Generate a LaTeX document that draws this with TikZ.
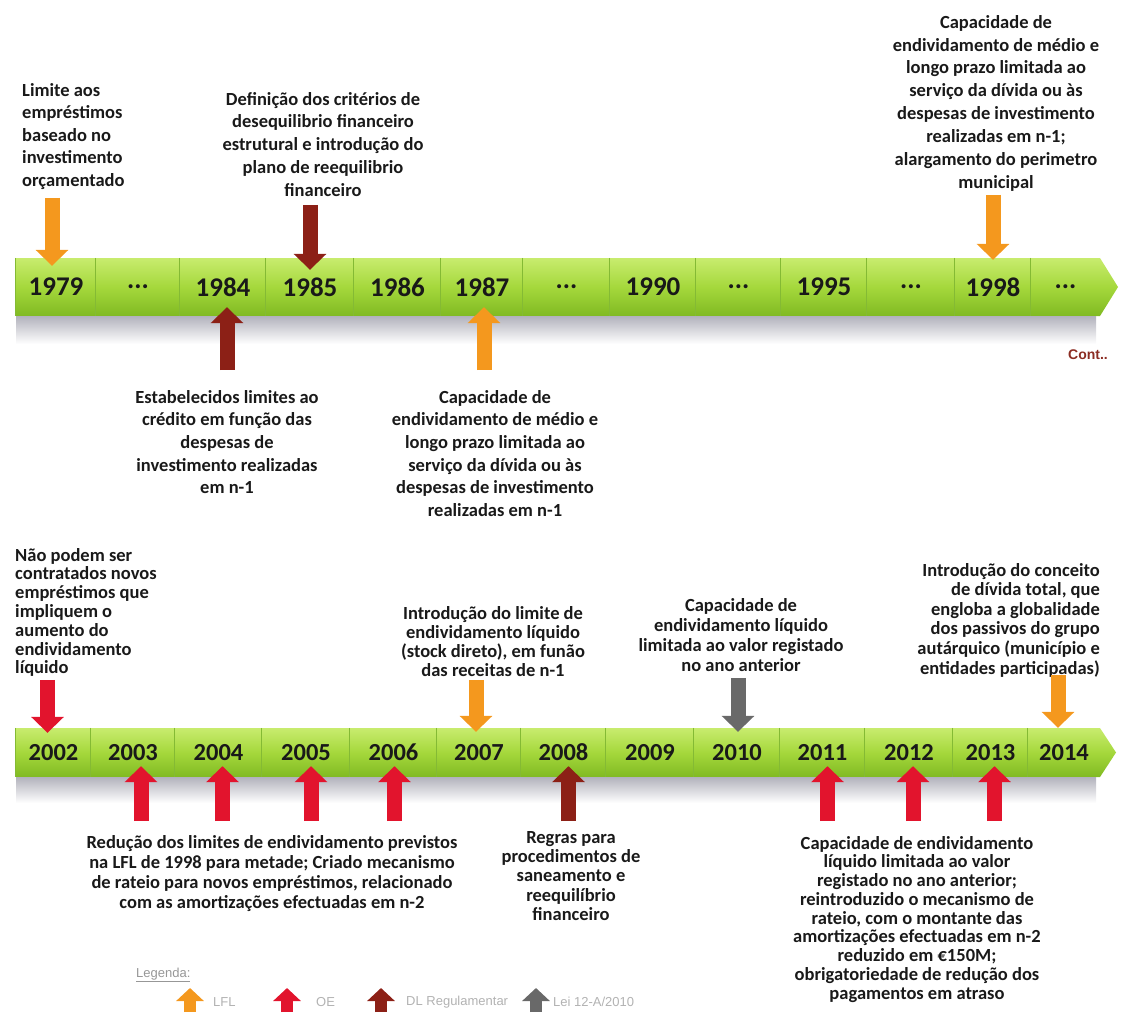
\documentclass[tikz,border=0pt]{standalone}
\usepackage{fontspec}
\setmainfont{Carlito}
\newfontfamily\legfont{Liberation Sans}
\usetikzlibrary{arrows.meta}

\definecolor{lflc}{RGB}{244,152,30}
\definecolor{oec}{RGB}{226,20,45}
\definecolor{dlc}{RGB}{140,32,22}
\definecolor{leic}{RGB}{105,105,105}
\definecolor{barhi}{RGB}{200,236,110}
\definecolor{barmid}{RGB}{165,216,60}
\definecolor{barlo}{RGB}{128,186,34}
\definecolor{cellline}{RGB}{132,186,52}
\definecolor{shadowc}{RGB}{178,178,188}
\definecolor{txt}{RGB}{25,25,25}
\definecolor{contc}{RGB}{140,45,35}
\definecolor{legc}{RGB}{178,178,178}
\newcommand{\yrgap}{...}
\newcommand{\notefont}[1]{\fontsize{18.5}{#1}\selectfont\bfseries}

\begin{document}
\begin{tikzpicture}[x=1pt, y=-1pt,
    cell/.style={inner sep=0pt, text=txt},
    topcell/.style={cell, minimum height=58pt, font=\fontsize{27}{27}\selectfont\bfseries},
    lowcell/.style={cell, minimum height=49pt, font=\fontsize{24.5}{24.5}\selectfont\bfseries},
    divider/.style={draw=cellline, line width=0.8pt},
    note/.style={inner sep=0pt, text=txt, align=center, font=\notefont{22.7}},
    evt/.style={line width=15pt, -{Triangle[width=32pt,length=16pt]}},
    lfl/.style={evt, draw=lflc},
    oe/.style={evt, draw=oec},
    dl/.style={evt, draw=dlc},
    lei/.style={evt, draw=leic},
    legtxt/.style={inner sep=0pt, text=legc, font=\legfont\fontsize{13}{13}\selectfont},
    legarr/.style={line width=12pt, -{Triangle[width=27pt,length=13pt]}}]
  \useasboundingbox (0,0) rectangle (1121,1012);

  % first timeline
  \shade[top color=barhi, bottom color=barlo, middle color=barmid]
    (16,258) -- (1100,258) -- (1118,287) -- (1100,316) -- (16,316) -- cycle;
  \shade[top color=shadowc, bottom color=white] (16,316) rectangle (1096,344);
  \foreach \xa/\xb/\yr/\nm in {16/96/1979/c1979, 96/180/\yrgap/g1, 180/266/1984/c1984,
      266/354/1985/c1985, 354/441/1986/c1986, 441/523/1987/c1987, 523/610/\yrgap/g2,
      610/696/1990/c1990, 696/781/\yrgap/g3, 781/867/1995/c1995, 867/955/\yrgap/g4,
      955/1031/1998/c1998, 1031/1100/\yrgap/g5}
  {
    \node[topcell, minimum width={(\xb-\xa)*1pt}] (\nm) at ({(\xa+\xb)/2}, 287) {\yr};
    \draw[divider] (\nm.north west) -- (\nm.south west);
  }

  % second timeline
  \shade[top color=barhi, bottom color=barlo, middle color=barmid]
    (16,728) -- (1100,728) -- (1116,752.5) -- (1100,777) -- (16,777) -- cycle;
  \shade[top color=shadowc, bottom color=white] (16,777) rectangle (1096,803);
  \foreach \xa/\xb/\yr in {16/91/2002, 91/175/2003, 175/262/2004, 262/350/2005,
      350/437/2006, 437/521/2007, 521/606/2008, 606/694/2009, 694/780/2010,
      780/865/2011, 865/953/2012, 953/1028/2013, 1028/1100/2014}
  {
    \node[lowcell, minimum width={(\xb-\xa)*1pt}] (c\yr) at ({(\xa+\xb)/2}, 752.5) {\yr};
    \draw[divider] (c\yr.north west) -- (c\yr.south west);
  }

  % notes, first timeline
  \node[note, anchor=north west, align=left, font=\notefont{22.5}] (n1979) at (22,83)
    {Limite aos\\empréstimos\\baseado no\\investimento\\orçamentado};
  \node[note, anchor=north] (n1985) at (323,92)
    {Definição dos critérios de\\desequilibrio financeiro\\estrutural e introdução do\\plano de reequilibrio\\financeiro};
  \node[note, anchor=north, font=\notefont{22.9}] (n1998) at (996,15)
    {Capacidade de\\endividamento de médio e\\longo prazo limitada ao\\serviço da dívida ou às\\despesas de investimento\\realizadas em n-1;\\alargamento do perimetro\\municipal};
  \node[note, anchor=north] (n1984) at (227,390)
    {Estabelecidos limites ao\\crédito em função das\\despesas de\\investimento realizadas\\em n-1};
  \node[note, anchor=north] (n1987) at (495,390)
    {Capacidade de\\endividamento de médio e\\longo prazo limitada ao\\serviço da dívida ou às\\despesas de investimento\\realizadas em n-1};
  \node[text=contc, font=\legfont\bfseries\fontsize{14}{14}\selectfont] (cont) at (1088,355) {Cont..};

  \draw[lfl] ([xshift=-4pt,yshift=60pt]c1979.north) -- ([xshift=-4pt,yshift=-8pt]c1979.north);
  \draw[dl] ([yshift=53pt]c1985.north) -- ([yshift=-12pt]c1985.north);
  \draw[lfl] ([yshift=63pt]c1998.north) -- ([yshift=-2pt]c1998.north);
  \draw[dl] ([xshift=4pt,yshift=-54pt]c1984.south) -- ([xshift=4pt,yshift=9pt]c1984.south);
  \draw[lfl] ([xshift=2pt,yshift=-54pt]c1987.south) -- ([xshift=2pt,yshift=9pt]c1987.south);

  % notes, second timeline
  \node[note, anchor=north west, align=left, font=\notefont{18.8}] (n2002) at (15,548)
    {Não podem ser\\contratados novos\\empréstimos que\\impliquem o\\aumento do\\endividamento\\líquido};
  \node[note, anchor=north, font=\notefont{19}] (n2007) at (493,606)
    {Introdução do limite de\\endividamento líquido\\(stock direto), em funão\\das receitas de n-1};
  \node[note, anchor=north, font=\notefont{20}] (n2010) at (741,598)
    {Capacidade de\\endividamento líquido\\limitada ao valor registado\\no ano anterior};
  \node[note, anchor=north east, align=right, font=\notefont{19.6}] (n2014) at (1100,563)
    {Introdução do conceito\\de dívida total, que\\engloba a globalidade\\dos passivos do grupo\\autárquico (município e\\entidades participadas)};
  \node[note, anchor=north, font=\notefont{20}] (n2003) at (272,835)
    {Redução dos limites de endividamento previstos\\na LFL de 1998 para metade; Criado mecanismo\\de rateio para novos empréstimos, relacionado\\com as amortizações efectuadas em n-2};
  \node[note, anchor=north, font=\notefont{19.3}] (n2008) at (571,831)
    {Regras para\\procedimentos de\\saneamento e\\reequilíbrio\\financeiro};
  \node[note, anchor=north, font=\notefont{18.75}] (n2011) at (917,836)
    {Capacidade de endividamento\\líquido limitada ao valor\\registado no ano anterior;\\reintroduzido o mecanismo de\\rateio, com o montante das\\amortizações efectuadas em n-2\\reduzido em €150M;\\obrigatoriedade de redução dos\\pagamentos em atraso};

  \draw[oe] ([xshift=-6pt,yshift=48pt]c2002.north) -- ([xshift=-6pt,yshift=-5pt]c2002.north);
  \draw[lfl] ([xshift=-3pt,yshift=48pt]c2007.north) -- ([xshift=-3pt,yshift=-4pt]c2007.north);
  \draw[lei] ([xshift=1pt,yshift=50pt]c2010.north) -- ([xshift=1pt,yshift=-4pt]c2010.north);
  \draw[lfl] ([xshift=-6pt,yshift=53pt]c2014.north) -- ([xshift=-6pt,yshift=0pt]c2014.north);
  \foreach \yr/\dx in {2003/8,2004/4,2005/5,2006/1,2011/5,2012/4,2013/4}
    \draw[oe] ([xshift=\dx pt,yshift=-44pt]c\yr.south) -- ([xshift=\dx pt,yshift=11pt]c\yr.south);
  \draw[dl] ([xshift=5pt,yshift=-44pt]c2008.south) -- ([xshift=5pt,yshift=11pt]c2008.south);

  % legenda
  \node[legtxt, anchor=west, text=legc!85!black] (lg) at (136,975) {\underline{Legenda:}};
  \node[legtxt, anchor=west] (kLFL) at (213,1002) {LFL};
  \node[legtxt, anchor=west] (kOE) at (316,1002) {OE};
  \node[legtxt, anchor=west] (kDL) at (406,1002) {DL Regulamentar};
  \node[legtxt, anchor=west] (kLei) at (553,1002) {Lei 12-A/2010};
  \draw[legarr, draw=lflc] ([xshift=-23pt,yshift=-10pt]kLFL.west) -- ([xshift=-23pt,yshift=14pt]kLFL.west);
  \draw[legarr, draw=oec] ([xshift=-29pt,yshift=-10pt]kOE.west) -- ([xshift=-29pt,yshift=14pt]kOE.west);
  \draw[legarr, draw=dlc] ([xshift=-25pt,yshift=-10pt]kDL.west) -- ([xshift=-25pt,yshift=14pt]kDL.west);
  \draw[legarr, draw=leic] ([xshift=-17pt,yshift=-10pt]kLei.west) -- ([xshift=-17pt,yshift=14pt]kLei.west);
\end{tikzpicture}
\end{document}
